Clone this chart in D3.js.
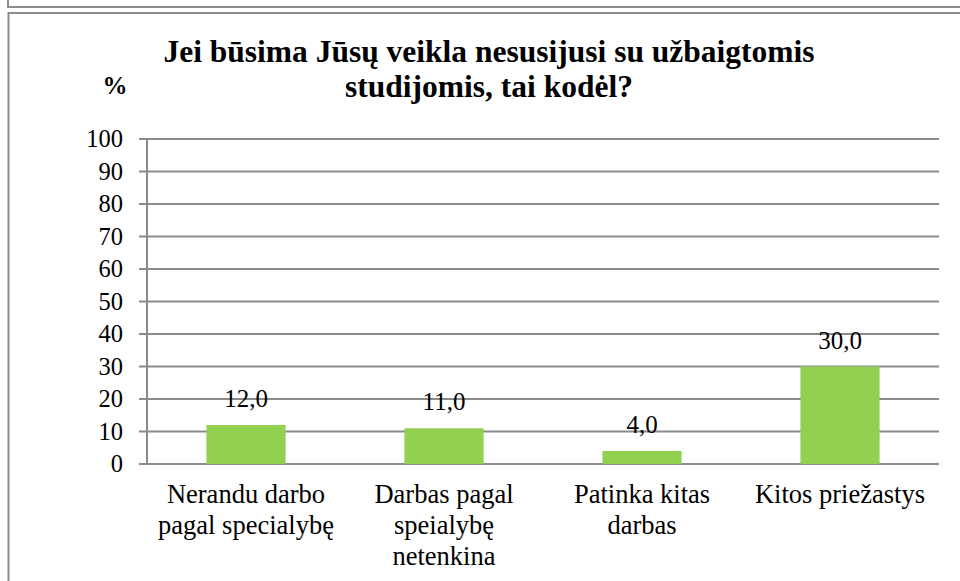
<!DOCTYPE html>
<html lang="lt">
<head>
  <meta charset="utf-8">
  <title>Jei būsima Jūsų veikla nesusijusi su užbaigtomis studijomis</title>
  <script src="https://cdn.jsdelivr.net/npm/d3@7/dist/d3.min.js"></script>
  <style type="text/css">
    body{ margin:0; background:#fff; }
    text{ font-family: "Liberation Serif", "Times New Roman", Times, serif; fill:#000; }
  </style>
</head>
<body>
  <script type="text/javascript">

    var width = 960;
    var height = 581;

    // data
    var categories = ["Nerandu darbo\npagal specialybę", "Darbas pagal\nspeialybę\nnetenkina", "Patinka kitas\ndarbas", "Kitos priežastys"];
    var values = [12.0, 11.0, 4.0, 30.0];
    var yTicks = [0, 10, 20, 30, 40, 50, 60, 70, 80, 90, 100];
    var titleLines = ["Jei būsima Jūsų veikla nesusijusi su užbaigtomis", "studijomis, tai kodėl?"];

    var svg = d3.select("body")
        .append("svg")
        .attr("width", width)
        .attr("height", height);

    // frames (the chart sits in a table cell)
    svg.append("path")
        .attr("d", "M8,0V7H960")
        .attr("fill", "none")
        .attr("stroke", "#8c8c8c")
        .attr("stroke-width", 2);
    svg.append("path")
        .attr("d", "M960,13H8.5V581")
        .attr("fill", "none")
        .attr("stroke", "#8c8c8c")
        .attr("stroke-width", 2);

    var plotLeft = 147, plotRight = 939, plotTop = 139, plotBottom = 464;

    var x = d3.scaleBand()
        .domain(categories)
        .range([plotLeft, plotRight])
        .paddingInner(0.6)
        .paddingOuter(0.3);

    var y = d3.scaleLinear()
        .domain([0, 100])
        .range([plotBottom, plotTop]);

    // gridlines
    svg.append("g")
        .selectAll("line")
        .data(yTicks)
        .enter()
        .append("line")
        .attr("x1", plotLeft - 8)
        .attr("x2", plotRight)
        .attr("y1", function(d){ return y(d); })
        .attr("y2", function(d){ return y(d); })
        .attr("stroke", "#8a8a8a")
        .attr("stroke-width", 2);

    // y axis line
    svg.append("line")
        .attr("x1", plotLeft).attr("x2", plotLeft)
        .attr("y1", plotTop).attr("y2", plotBottom)
        .attr("stroke", "#8a8a8a")
        .attr("stroke-width", 2);

    // tick labels
    svg.append("g")
        .selectAll("text")
        .data(yTicks)
        .enter()
        .append("text")
        .attr("x", 123)
        .attr("y", function(d){ return y(d); })
        .attr("dy", "0.33em")
        .attr("text-anchor", "end")
        .style("font-size", "24.5px")
        .text(function(d){ return d; });

    // bars
    svg.append("g")
        .selectAll("rect")
        .data(values)
        .enter()
        .append("rect")
        .attr("x", function(d, i){ return x(categories[i]); })
        .attr("width", x.bandwidth())
        .attr("y", function(d){ return y(d); })
        .attr("height", function(d){ return y(0) - y(d); })
        .attr("fill", "#92d050");

    // value labels
    svg.append("g")
        .selectAll("text")
        .data(values)
        .enter()
        .append("text")
        .attr("x", function(d, i){ return x(categories[i]) + x.bandwidth() / 2; })
        .attr("y", function(d){ return y(d) - 18; })
        .attr("text-anchor", "middle")
        .style("font-size", "25px")
        .text(function(d){ return d.toFixed(1).replace(".", ","); });

    // category labels
    var cat = svg.append("g")
        .selectAll("text")
        .data(categories)
        .enter()
        .append("text")
        .attr("text-anchor", "middle")
        .style("font-size", "26.5px");
    cat.each(function(d){
        var t = d3.select(this);
        d.split("\n").forEach(function(line, j){
            t.append("tspan")
                .attr("x", x(d) + x.bandwidth() / 2)
                .attr("y", 503 + j * 31)
                .text(line);
        });
    });

    // title
    svg.append("g")
        .selectAll("text")
        .data(titleLines)
        .enter()
        .append("text")
        .attr("x", 489)
        .attr("y", function(d, i){ return 62 + i * 35; })
        .attr("text-anchor", "middle")
        .style("font-size", "31.5px")
        .style("font-weight", "bold")
        .text(function(d){ return d; });

    svg.append("text")
        .attr("x", 115)
        .attr("y", 94)
        .attr("text-anchor", "middle")
        .style("font-size", "25px")
        .style("font-weight", "bold")
        .text("%");

  </script>
</body>
</html>
